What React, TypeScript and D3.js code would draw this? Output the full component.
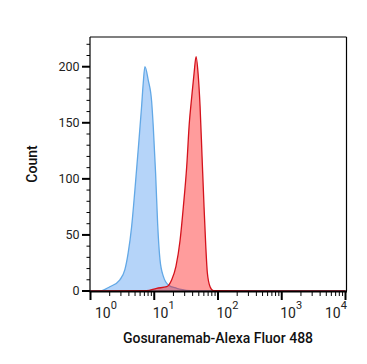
import React from "react";
import * as d3 from "d3";

// Histogram data: fluorescence intensity (linear units) and event counts
const isotypeIntensity = [1, 1.4, 2.01, 2.89, 3.46, 3.9, 4.41, 4.97, 5.6, 6.34, 6.71, 7.14, 8.05, 9.1, 9.64, 10.5, 11.3, 12.3, 13.9, 16.6, 22.5, 36.4, 43.7, 10000];
const isotypeCount = [0, 0, 3.8, 10, 19, 34, 57, 90, 126, 165, 185, 200, 188, 169, 147, 105, 60, 28, 13, 5.4, 2.4, 0.3, 0, 0];

const antibodyIntensity = [1, 7.6, 10.9, 15.7, 18.8, 21.9, 25.4, 28.6, 32.3, 35.5, 38.7, 42.1, 45.3, 48.7, 52.3, 56.2, 60.4, 64.3, 68.1, 75.1, 84.7, 10000];
const antibodyCount = [0, 0.3, 2.4, 3.8, 10, 22, 45, 75, 111, 150, 173, 194, 209, 194, 165, 120, 75, 40, 16, 3.8, 0.3, 0];

const xDecades = [0, 1, 2, 3, 4];
const yMajorTicks = [0, 50, 100, 150, 200];
const yMinorTicks = [10, 20, 30, 40, 60, 70, 80, 90, 110, 120, 130, 140, 160, 170, 180, 190, 210, 220];

const xTitle = "Gosuranemab-Alexa Fluor 488";
const yTitle = "Count";

export default function App() {
  const W = 367, H = 364;
  const left = 90.5, right = 345.5, top = 37, bottom = 291;
  const x = d3.scaleLog().domain([1, 10000]).range([left, right]);
  const y = d3.scaleLinear().domain([0, 226.5]).range([bottom, top]);

  const area = (xs: number[], ys: number[]) =>
    d3.area<number>()
      .x((_, i) => x(xs[i]))
      .y0(y(0))
      .y1((d) => y(d))
      .curve(d3.curveMonotoneX)(ys) || "";
  const line = (xs: number[], ys: number[]) =>
    d3.line<number>()
      .x((_, i) => x(xs[i]))
      .y((d) => y(d))
      .curve(d3.curveMonotoneX)(ys) || "";

  const minorX: number[] = [];
  for (let e = 0; e < 4; e++) {
    for (let m = 2; m <= 9; m++) minorX.push(m * Math.pow(10, e));
  }

  const font = "Roboto, 'Noto Sans', sans-serif";
  const labelW = 23;

  return (
    <svg width={W} height={H} style={{ position: "absolute", left: 0, top: 0 }} fontFamily={font}>
      <rect x={0} y={0} width={W} height={H} fill="#fff" />
      {/* histograms */}
      <path d={area(isotypeIntensity, isotypeCount)} fill="rgba(51,136,238,0.36)" />
      <path d={line(isotypeIntensity, isotypeCount)} fill="none" stroke="#62a8e6" strokeWidth={1.3} />
      <path d={area(antibodyIntensity, antibodyCount)} fill="rgba(255,20,20,0.42)" />
      <path d={line(antibodyIntensity, antibodyCount)} fill="none" stroke="#d4121c" strokeWidth={1.3} />

      {/* frame */}
      <line x1={left - 0.5} x2={right + 1} y1={top} y2={top} stroke="#000" strokeWidth={1.2} />
      <line x1={right + 1} x2={right + 1} y1={top} y2={bottom} stroke="#000" strokeWidth={1.2} />
      <line x1={left - 0.5} x2={left - 0.5} y1={top} y2={bottom + 1} stroke="#000" strokeWidth={1.2} />
      <line x1={left - 1} x2={right + 1.5} y1={bottom + 0.5} y2={bottom + 0.5} stroke="#000" strokeWidth={2} />

      {/* y axis ticks */}
      {yMajorTicks.map((t) => (
        <g key={"ym" + t}>
          <line x1={left - 8.5} x2={left - 0.5} y1={y(t)} y2={y(t)} stroke="#000" strokeWidth={2} />
          <text x={left - 11} y={y(t)} dy="0.35em" textAnchor="end" fontSize={12.5} fill="#222">{t}</text>
        </g>
      ))}
      {yMinorTicks.map((t) => (
        <line key={"yn" + t} x1={left - 4} x2={left - 0.5} y1={y(t)} y2={y(t)} stroke="#000" strokeWidth={1} />
      ))}

      {/* x axis ticks */}
      {xDecades.map((e) => {
        const t = x(Math.pow(10, e));
        let sx = Math.max(t - 1.6, 95);
        if (sx + labelW > 348) sx = 348 - labelW;
        return (
          <g key={"xm" + e}>
            <line x1={t} x2={t} y1={bottom} y2={bottom + 9} stroke="#000" strokeWidth={2} />
            <text x={sx} y={318} fontSize={14} fill="#222">
              10<tspan dy={-9} fontSize={11}>{e}</tspan>
            </text>
          </g>
        );
      })}
      {minorX.map((v) => (
        <line key={"xn" + v} x1={x(v)} x2={x(v)} y1={bottom} y2={bottom + 5} stroke="#000" strokeWidth={1} />
      ))}

      {/* titles */}
      <text x={218} y={343} textAnchor="middle" fontSize={14} fontWeight={500} fill="#111">{xTitle}</text>
      <text transform={`translate(37,164) rotate(-90)`} textAnchor="middle" fontSize={14} fontWeight={500} fill="#111">{yTitle}</text>
    </svg>
  );
}
